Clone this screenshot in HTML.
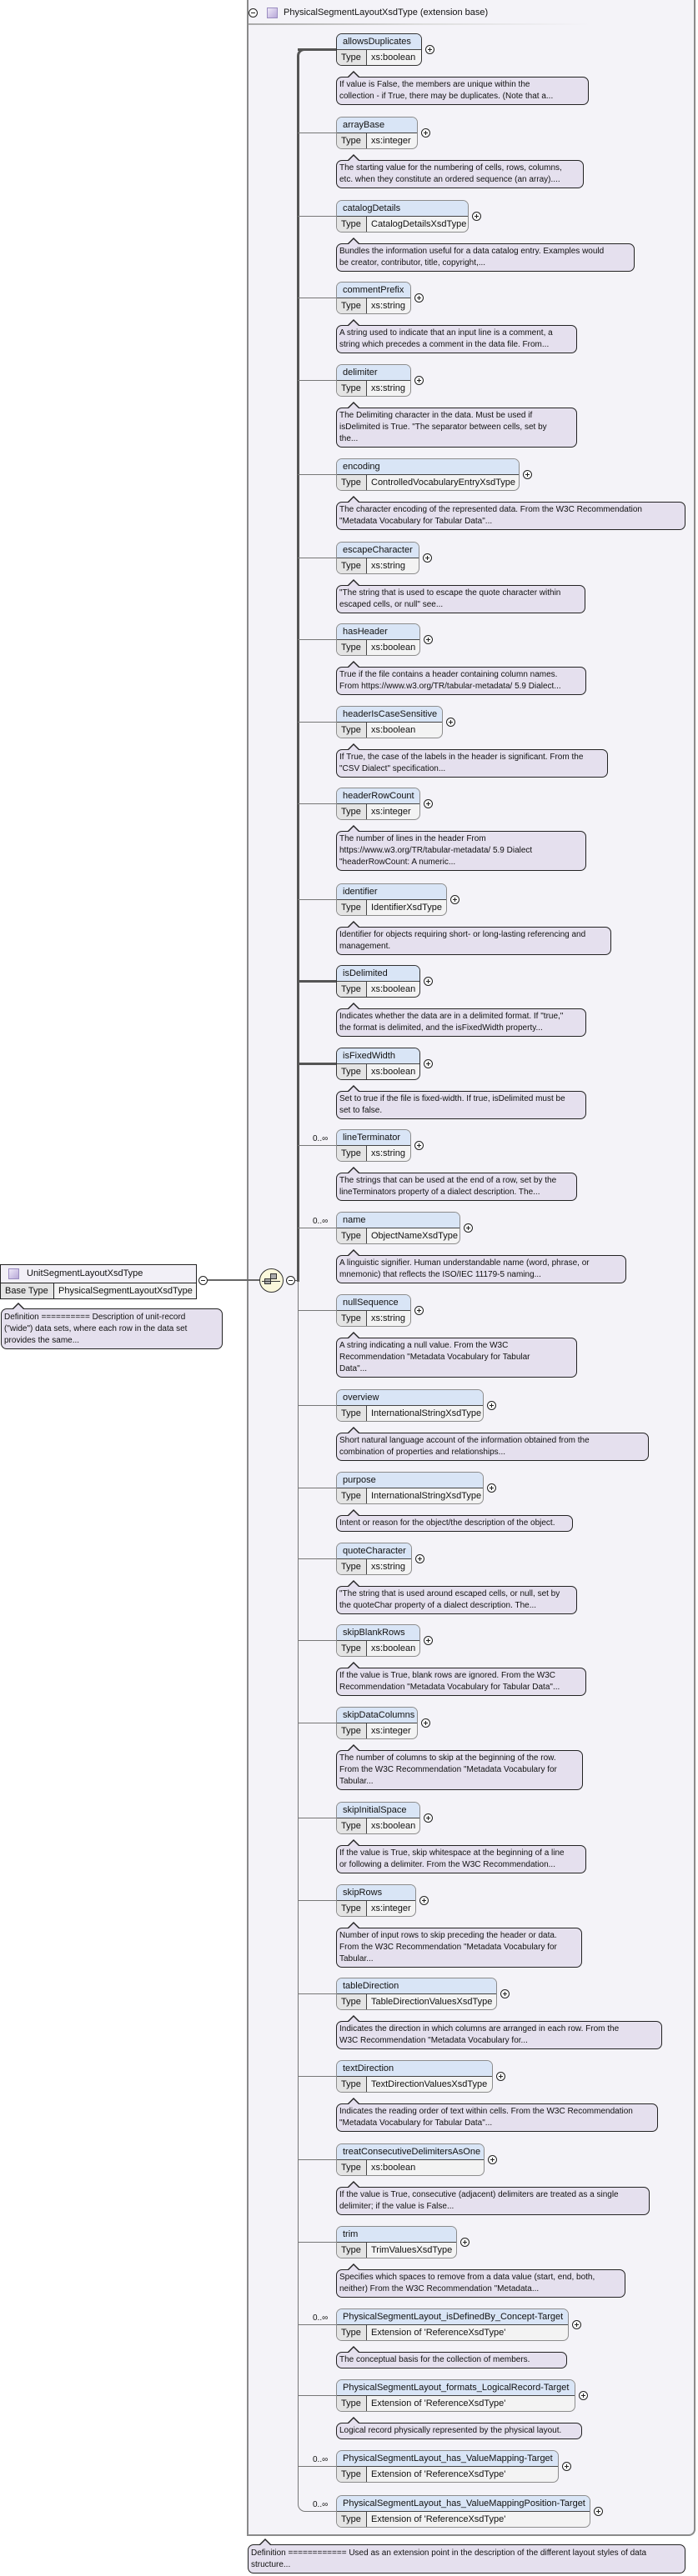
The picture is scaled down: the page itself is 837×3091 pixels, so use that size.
<!DOCTYPE html>
<html><head><meta charset="utf-8"><style>
*{box-sizing:border-box}
body{margin:0;width:837px;height:3091px;position:relative;background:#fff;font-family:"Liberation Sans",Arial,sans-serif;color:#111;overflow:hidden}
.outer{position:absolute;left:296px;top:-2px;width:538px;height:3045px;background:#f4f3f8;border:2px solid #8a8a8a;border-bottom-right-radius:8px}
.ttl{position:absolute;left:340px;top:9px;font-size:11px}
.sep{position:absolute;left:298px;top:28px;width:410px;height:2px;background:linear-gradient(to right,#aaa,#ddd,#f4f3f8)}
.sq{position:absolute;width:13px;height:13px;background:linear-gradient(135deg,#eee8f8,#b8a8d8);border:1px solid #9a8cc0}
.mc{position:absolute;width:11px;height:11px;border:1px solid #222;border-radius:50%;background:#fff}
.mc:after{content:"";position:absolute;left:2px;top:4px;width:5px;height:1px;background:#222}
.g{position:absolute;left:357px;width:0;height:0}
.c{position:absolute;left:0;top:19px;width:46px;height:1px;background:#777}
.c.k{height:3px;top:18px;background:#555}
.e{position:absolute;left:46px;top:0;height:39px;border:1px solid #8c8c8c;border-radius:7px;overflow:hidden;font-size:11px;background:#f3f3f3}
.e.r{border-color:#333}
.h{height:19px;line-height:18px;background:#d9e5f6;border-bottom:1px solid #444;padding-left:7px;white-space:nowrap}
.t{height:18px;line-height:18px;white-space:nowrap;display:flex}
.t span{display:inline-block;width:36px;flex:none;background:#e4e4e4;border-right:1px solid #444;padding-left:5px;margin-right:5px}
.p{position:absolute;top:14px;width:11px;height:11px;border:1px solid #222;border-radius:50%;background:#fff}
.p:before{content:"";position:absolute;left:2px;top:4px;width:5px;height:1px;background:#222}
.p:after{content:"";position:absolute;left:4px;top:2px;width:1px;height:5px;background:#222}
.d{position:absolute;left:46px;top:52px;border:1px solid #222;border-radius:7px;background:#e5e0ee;padding:2px 3px 2px 3px;font-size:10px;line-height:14px;white-space:nowrap}
.d:before{content:"";position:absolute;left:12px;top:-8px;border-left:8px solid transparent;border-right:8px solid transparent;border-bottom:8px solid #222}
.d:after{content:"";position:absolute;left:13px;top:-6px;border-left:7px solid transparent;border-right:7px solid transparent;border-bottom:7px solid #e5e0ee}
.o{position:absolute;left:18px;top:6px;font-size:10px}
</style></head><body>
<div class="outer"></div>
<div class="mc" style="left:298px;top:10px"></div>
<div class="sq" style="left:320px;top:9px"></div>
<div class="ttl">PhysicalSegmentLayoutXsdType (extension base)</div>
<div class="sep"></div>

<!-- vertical connectors -->
<div style="position:absolute;left:356px;top:58px;width:47px;height:1480px;border-left:3px solid #555;border-top:3px solid #555;border-top-left-radius:9px"></div>
<div style="position:absolute;left:357px;top:1536px;width:46px;height:1478px;border-left:1px solid #777;border-bottom:1px solid #777;border-bottom-left-radius:9px"></div>

<!-- left element -->
<div style="position:absolute;left:0;top:1517px;width:236px;height:42px;border:1px solid #222;background:#f3f3f3;font-size:11px">
<div style="height:22px;line-height:21px;background:#f2f0f7;border-bottom:1px solid #222;padding-left:31px;position:relative">UnitSegmentLayoutXsdType<div class="sq" style="left:9px;top:4px"></div></div>
<div style="display:flex;height:18px;line-height:18px"><span style="width:64px;border-right:1px solid #222;background:#e4e4e4;padding-left:5px">Base Type</span><span style="padding-left:5px">PhysicalSegmentLayoutXsdType</span></div>
</div>
<div class="mc" style="left:238px;top:1531px"></div>
<div style="position:absolute;left:249px;top:1535px;width:64px;height:2px;background:#666"></div>
<div style="position:absolute;left:311px;top:1522px;width:29px;height:29px;border:1px solid #333;border-radius:50%;background:#fbf8dc"></div>
<div style="position:absolute;left:317px;top:1534px;width:8px;height:7px;background:#aaa;border:1px solid #333"></div>
<div style="position:absolute;left:324px;top:1528px;width:8px;height:7px;background:#aaa;border:1px solid #333"></div>
<div style="position:absolute;left:314px;top:1537px;width:22px;height:1px;background:#333"></div>
<div class="mc" style="left:343px;top:1531px"></div>
<div style="position:absolute;left:354px;top:1536px;width:4px;height:1px;background:#555"></div>
<div class="d" style="left:1px;top:1570px;width:266px;line-height:14px;padding-top:3px">Definition ========== Description of unit-record<br>("wide") data sets, where each row in the data set<br>provides the same...</div>

<div class="g" style="top:40px"><div class="c k"></div><div class="e r" style="width:103px"><div class="h">allowsDuplicates</div><div class="t"><span>Type</span>xs:boolean</div></div><i class="p" style="left:153px"></i><div class="d" style="width:303px">If value is False, the members are unique within the<br>collection - if True, there may be duplicates. (Note that a...</div></div>
<div class="g" style="top:140px"><div class="c"></div><div class="e" style="width:98px"><div class="h">arrayBase</div><div class="t"><span>Type</span>xs:integer</div></div><i class="p" style="left:148px"></i><div class="d" style="width:297px">The starting value for the numbering of cells, rows, columns,<br>etc. when they constitute an ordered sequence (an array)....</div></div>
<div class="g" style="top:240px"><div class="c"></div><div class="e" style="width:159px"><div class="h">catalogDetails</div><div class="t"><span>Type</span>CatalogDetailsXsdType</div></div><i class="p" style="left:209px"></i><div class="d" style="width:358px">Bundles the information useful for a data catalog entry. Examples would<br>be creator, contributor, title, copyright,...</div></div>
<div class="g" style="top:338px"><div class="c"></div><div class="e" style="width:90px"><div class="h">commentPrefix</div><div class="t"><span>Type</span>xs:string</div></div><i class="p" style="left:140px"></i><div class="d" style="width:289px">A string used to indicate that an input line is a comment, a<br>string which precedes a comment in the data file. From...</div></div>
<div class="g" style="top:437px"><div class="c"></div><div class="e" style="width:90px"><div class="h">delimiter</div><div class="t"><span>Type</span>xs:string</div></div><i class="p" style="left:140px"></i><div class="d" style="width:289px">The Delimiting character in the data. Must be used if<br>isDelimited is True. "The separator between cells, set by<br>the...</div></div>
<div class="g" style="top:550px"><div class="c"></div><div class="e" style="width:220px"><div class="h">encoding</div><div class="t"><span>Type</span>ControlledVocabularyEntryXsdType</div></div><i class="p" style="left:270px"></i><div class="d" style="width:419px">The character encoding of the represented data. From the W3C Recommendation<br>"Metadata Vocabulary for Tabular Data"...</div></div>
<div class="g" style="top:650px"><div class="c"></div><div class="e" style="width:100px"><div class="h">escapeCharacter</div><div class="t"><span>Type</span>xs:string</div></div><i class="p" style="left:150px"></i><div class="d" style="width:299px">"The string that is used to escape the quote character within<br>escaped cells, or null" see...</div></div>
<div class="g" style="top:748px"><div class="c"></div><div class="e" style="width:101px"><div class="h">hasHeader</div><div class="t"><span>Type</span>xs:boolean</div></div><i class="p" style="left:151px"></i><div class="d" style="width:300px">True if the file contains a header containing column names.<br>From https://www.w3.org/TR/tabular-metadata/ 5.9 Dialect...</div></div>
<div class="g" style="top:847px"><div class="c"></div><div class="e" style="width:128px"><div class="h">headerIsCaseSensitive</div><div class="t"><span>Type</span>xs:boolean</div></div><i class="p" style="left:178px"></i><div class="d" style="width:326px">If True, the case of the labels in the header is significant. From the<br>"CSV Dialect" specification...</div></div>
<div class="g" style="top:945px"><div class="c"></div><div class="e" style="width:101px"><div class="h">headerRowCount</div><div class="t"><span>Type</span>xs:integer</div></div><i class="p" style="left:151px"></i><div class="d" style="width:300px">The number of lines in the header From<br>https://www.w3.org/TR/tabular-metadata/ 5.9 Dialect<br>"headerRowCount: A numeric...</div></div>
<div class="g" style="top:1060px"><div class="c"></div><div class="e" style="width:133px"><div class="h">identifier</div><div class="t"><span>Type</span>IdentifierXsdType</div></div><i class="p" style="left:183px"></i><div class="d" style="width:330px">Identifier for objects requiring short- or long-lasting referencing and<br>management.</div></div>
<div class="g" style="top:1158px"><div class="c k"></div><div class="e r" style="width:101px"><div class="h">isDelimited</div><div class="t"><span>Type</span>xs:boolean</div></div><i class="p" style="left:151px"></i><div class="d" style="width:300px">Indicates whether the data are in a delimited format. If "true,"<br>the format is delimited, and the isFixedWidth property...</div></div>
<div class="g" style="top:1257px"><div class="c k"></div><div class="e r" style="width:101px"><div class="h">isFixedWidth</div><div class="t"><span>Type</span>xs:boolean</div></div><i class="p" style="left:151px"></i><div class="d" style="width:300px">Set to true if the file is fixed-width. If true, isDelimited must be<br>set to false.</div></div>
<div class="g" style="top:1355px"><div class="c"></div><span class="o">0..∞</span><div class="e" style="width:90px"><div class="h">lineTerminator</div><div class="t"><span>Type</span>xs:string</div></div><i class="p" style="left:140px"></i><div class="d" style="width:289px">The strings that can be used at the end of a row, set by the<br>lineTerminators property of a dialect description. The...</div></div>
<div class="g" style="top:1454px"><div class="c"></div><span class="o">0..∞</span><div class="e" style="width:149px"><div class="h">name</div><div class="t"><span>Type</span>ObjectNameXsdType</div></div><i class="p" style="left:199px"></i><div class="d" style="width:348px">A linguistic signifier. Human understandable name (word, phrase, or<br>mnemonic) that reflects the ISO/IEC 11179-5 naming...</div></div>
<div class="g" style="top:1553px"><div class="c"></div><div class="e" style="width:90px"><div class="h">nullSequence</div><div class="t"><span>Type</span>xs:string</div></div><i class="p" style="left:140px"></i><div class="d" style="width:289px">A string indicating a null value. From the W3C<br>Recommendation "Metadata Vocabulary for Tabular<br>Data"...</div></div>
<div class="g" style="top:1667px"><div class="c"></div><div class="e" style="width:177px"><div class="h">overview</div><div class="t"><span>Type</span>InternationalStringXsdType</div></div><i class="p" style="left:227px"></i><div class="d" style="width:375px">Short natural language account of the information obtained from the<br>combination of properties and relationships...</div></div>
<div class="g" style="top:1766px"><div class="c"></div><div class="e" style="width:177px"><div class="h">purpose</div><div class="t"><span>Type</span>InternationalStringXsdType</div></div><i class="p" style="left:227px"></i><div class="d" style="width:284px">Intent or reason for the object/the description of the object.</div></div>
<div class="g" style="top:1851px"><div class="c"></div><div class="e" style="width:91px"><div class="h">quoteCharacter</div><div class="t"><span>Type</span>xs:string</div></div><i class="p" style="left:141px"></i><div class="d" style="width:289px">"The string that is used around escaped cells, or null, set by<br>the quoteChar property of a dialect description. The...</div></div>
<div class="g" style="top:1949px"><div class="c"></div><div class="e" style="width:101px"><div class="h">skipBlankRows</div><div class="t"><span>Type</span>xs:boolean</div></div><i class="p" style="left:151px"></i><div class="d" style="width:300px">If the value is True, blank rows are ignored. From the W3C<br>Recommendation "Metadata Vocabulary for Tabular Data"...</div></div>
<div class="g" style="top:2048px"><div class="c"></div><div class="e" style="width:98px"><div class="h">skipDataColumns</div><div class="t"><span>Type</span>xs:integer</div></div><i class="p" style="left:148px"></i><div class="d" style="width:296px">The number of columns to skip at the beginning of the row.<br>From the W3C Recommendation "Metadata Vocabulary for<br>Tabular...</div></div>
<div class="g" style="top:2162px"><div class="c"></div><div class="e" style="width:101px"><div class="h">skipInitialSpace</div><div class="t"><span>Type</span>xs:boolean</div></div><i class="p" style="left:151px"></i><div class="d" style="width:300px">If the value is True, skip whitespace at the beginning of a line<br>or following a delimiter. From the W3C Recommendation...</div></div>
<div class="g" style="top:2261px"><div class="c"></div><div class="e" style="width:96px"><div class="h">skipRows</div><div class="t"><span>Type</span>xs:integer</div></div><i class="p" style="left:146px"></i><div class="d" style="width:295px">Number of input rows to skip preceding the header or data.<br>From the W3C Recommendation "Metadata Vocabulary for<br>Tabular...</div></div>
<div class="g" style="top:2373px"><div class="c"></div><div class="e" style="width:193px"><div class="h">tableDirection</div><div class="t"><span>Type</span>TableDirectionValuesXsdType</div></div><i class="p" style="left:243px"></i><div class="d" style="width:391px">Indicates the direction in which columns are arranged in each row. From the<br>W3C Recommendation "Metadata Vocabulary for...</div></div>
<div class="g" style="top:2472px"><div class="c"></div><div class="e" style="width:188px"><div class="h">textDirection</div><div class="t"><span>Type</span>TextDirectionValuesXsdType</div></div><i class="p" style="left:238px"></i><div class="d" style="width:386px">Indicates the reading order of text within cells. From the W3C Recommendation<br>"Metadata Vocabulary for Tabular Data"...</div></div>
<div class="g" style="top:2572px"><div class="c"></div><div class="e" style="width:178px"><div class="h">treatConsecutiveDelimitersAsOne</div><div class="t"><span>Type</span>xs:boolean</div></div><i class="p" style="left:228px"></i><div class="d" style="width:376px">If the value is True, consecutive (adjacent) delimiters are treated as a single<br>delimiter; if the value is False...</div></div>
<div class="g" style="top:2671px"><div class="c"></div><div class="e" style="width:145px"><div class="h">trim</div><div class="t"><span>Type</span>TrimValuesXsdType</div></div><i class="p" style="left:195px"></i><div class="d" style="width:347px">Specifies which spaces to remove from a data value (start, end, both,<br>neither) From the W3C Recommendation "Metadata...</div></div>
<div class="g" style="top:2770px"><div class="c"></div><span class="o">0..∞</span><div class="e" style="width:279px"><div class="h">PhysicalSegmentLayout_isDefinedBy_Concept-Target</div><div class="t"><span>Type</span>Extension of 'ReferenceXsdType'</div></div><i class="p" style="left:329px"></i><div class="d" style="width:277px">The conceptual basis for the collection of members.</div></div>
<div class="g" style="top:2855px"><div class="c"></div><div class="e" style="width:287px"><div class="h">PhysicalSegmentLayout_formats_LogicalRecord-Target</div><div class="t"><span>Type</span>Extension of 'ReferenceXsdType'</div></div><i class="p" style="left:337px"></i><div class="d" style="width:295px">Logical record physically represented by the physical layout.</div></div>
<div class="g" style="top:2940px"><div class="c"></div><span class="o">0..∞</span><div class="e" style="width:267px"><div class="h">PhysicalSegmentLayout_has_ValueMapping-Target</div><div class="t"><span>Type</span>Extension of 'ReferenceXsdType'</div></div><i class="p" style="left:317px"></i></div>
<div class="g" style="top:2994px"><span class="o">0..∞</span><div class="e" style="width:305px"><div class="h">PhysicalSegmentLayout_has_ValueMappingPosition-Target</div><div class="t"><span>Type</span>Extension of 'ReferenceXsdType'</div></div><i class="p" style="left:355px"></i></div>

<div class="d" style="left:297px;top:3053px;width:525px;padding-top:3px">Definition ============ Used as an extension point in the description of the different layout styles of data<br>structure...</div>
</body></html>
